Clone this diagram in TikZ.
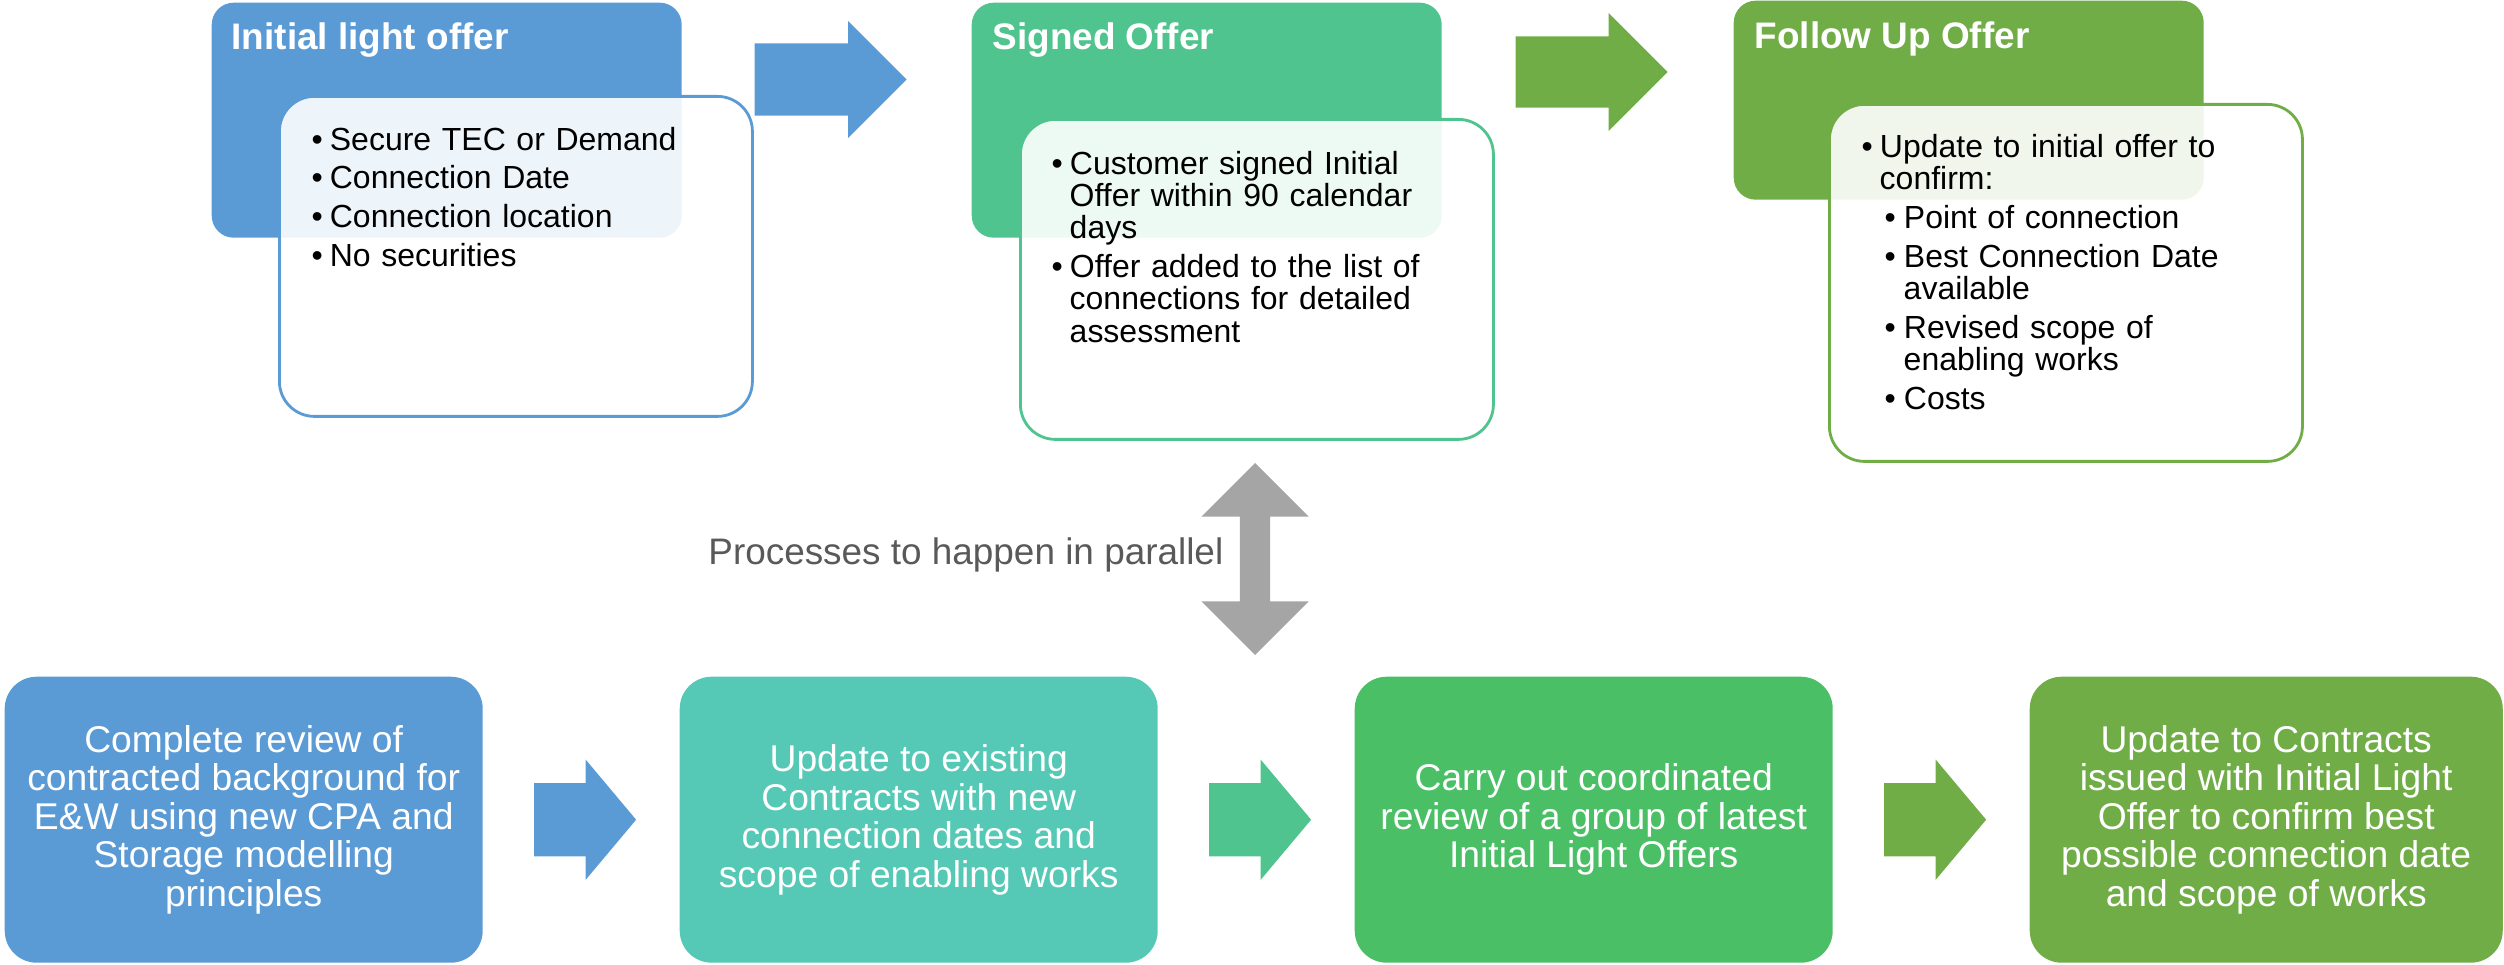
\documentclass[tikz,border=0pt]{standalone}
\usepackage{fontspec}
\setmainfont{Liberation Sans}
\usepackage{enumitem}
\usetikzlibrary{positioning,shapes.arrows}

\definecolor{offerblue}{HTML}{5B9BD5}
\definecolor{offermint}{HTML}{4FC48E}
\definecolor{offerolive}{HTML}{70AD47}
\definecolor{offerteal}{HTML}{55C9B6}
\definecolor{offergreen}{HTML}{4ABF66}
\definecolor{parallelgrey}{HTML}{A5A5A5}
\definecolor{noteink}{HTML}{595959}

\newcommand\pointfont{\fontsize{9.1pt}{9.2pt}\selectfont}
\newcommand\stagefont{\fontsize{10.6pt}{10.95pt}\selectfont}

\setlist[itemize,1]{label=\textbullet,leftmargin=0.18cm,labelindent=0pt,labelwidth=0.11cm,labelsep=0.07cm,
  align=left,topsep=0pt,partopsep=0pt,parsep=0pt,itemsep=0.065cm}
\setlist[itemize,2]{label=\textbullet,leftmargin=0.24cm,labelindent=0.05cm,labelwidth=0.11cm,labelsep=0.08cm,
  align=left,topsep=0.065cm,partopsep=0pt,parsep=0pt,itemsep=0.065cm}

\begin{document}
\begin{tikzpicture}[
    hdr/.style={rectangle,rounded corners=0.22cm,minimum width=4.70cm,anchor=north west,inner sep=0pt},
    ttl/.style={anchor=base west,inner sep=0pt,text=white,font=\fontsize{10.5pt}{12pt}\selectfont\bfseries},
    card/.style={rectangle,rounded corners=0.35cm,draw,line width=0.8pt,fill=white,fill opacity=0.9,
      anchor=north west,inner sep=0pt,minimum width=4.73cm,minimum height=3.20cm},
    pts/.style={inner sep=0pt,text width=4.1cm,align=left,font=\pointfont},
    stage/.style={rectangle,rounded corners=0.32cm,minimum width=4.78cm,minimum height=2.86cm,
      anchor=north west,inner sep=0pt,text=white,align=center,font=\stagefont},
    flowarrow/.style={single arrow,inner sep=0pt,inner ysep=0.36cm,single arrow head extend=0.235cm,
      single arrow tip angle=100,minimum height=1.02cm,anchor=tail},
    note/.style={inner sep=0pt,text=noteink,font=\fontsize{10.5pt}{12pt}\selectfont}]

  \useasboundingbox (0,0) rectangle (25.04,-9.65);

  % offer headers
  \node[hdr,fill=offerblue,minimum height=2.35cm] (ilo) at (2.11,-0.02) {};
  \node[hdr,fill=offermint,minimum height=2.35cm] (so) at (9.71,-0.02) {};
  \node[hdr,fill=offerolive,minimum height=1.99cm] (fuo) at (17.33,0) {};

  \node[ttl] (ilot) at ([shift={(0.20,-0.48)}]ilo.north west) {Initial light offer};
  \node[ttl] (sot) at ([shift={(0.21,-0.48)}]so.north west) {Signed Offer};
  \node[ttl] (fuot) at ([shift={(0.21,-0.49)}]fuo.north west) {Follow Up Offer};

  % offer details
  \node[card,draw=offerblue] (ilob) at (2.78,-0.95) {};
  \node[card,draw=offermint] (sob) at (10.19,-1.18) {};
  \node[card,draw=offerolive,minimum height=3.57cm] (fuob) at (18.28,-1.03) {};

  \node[pts,below right=0.22cm and 0.33cm of ilob.north west] (ilol) {%
    \begin{itemize}
      \item Secure TEC or Demand
      \item Connection Date
      \item Connection location
      \item No securities
    \end{itemize}};
  \node[pts,below right=0.23cm and 0.32cm of sob.north west] (sol) {%
    \begin{itemize}
      \item Customer signed Initial\newline Offer within 90 calendar\newline days
      \item Offer added to the list of\newline connections for detailed\newline assessment
    \end{itemize}};
  \node[pts,below right=0.21cm and 0.33cm of fuob.north west] (fuol) {%
    \begin{itemize}
      \item Update to initial offer to\newline confirm:
      \begin{itemize}
        \item Point of connection
        \item Best Connection Date\newline available
        \item Revised scope of\newline enabling works
        \item Costs
      \end{itemize}
    \end{itemize}};

  \node[flowarrow,fill=offerblue,inner ysep=0.355cm,single arrow head extend=0.225cm,
    single arrow tip angle=90,minimum height=1.52cm] (a1) at (7.54,-0.795) {};
  \node[flowarrow,fill=offerolive,inner ysep=0.35cm,
    single arrow tip angle=90,minimum height=1.52cm] (a2) at (15.15,-0.72) {};

  % parallel processes
  \node[stage,fill=offerblue] (rev) at (0.04,-6.76)
    {Complete review of\\contracted background for\\E\&W using new CPA and\\Storage modelling\\principles};
  \node[stage,fill=offerteal] (upd) at (6.79,-6.76)
    {Update to existing\\Contracts with new\\connection dates and\\scope of enabling works};
  \node[stage,fill=offergreen] (coo) at (13.54,-6.76)
    {Carry out coordinated\\review of a group of latest\\Initial Light Offers};
  \node[stage,fill=offerolive,minimum width=4.73cm] (con) at (20.29,-6.76)
    {Update to Contracts\\issued with Initial Light\\Offer to confirm best\\possible connection date\\and scope of works};

  \node[flowarrow,fill=offerblue,right=0.50cm of rev,anchor=tail] (a3) {};
  \node[flowarrow,fill=offermint,right=0.50cm of upd,anchor=tail] (a4) {};
  \node[flowarrow,fill=offerolive,right=0.50cm of coo,anchor=tail] (a5) {};

  \node[double arrow,fill=parallelgrey,inner sep=0pt,inner ysep=0.145cm,double arrow head extend=0.385cm,
    minimum height=1.92cm,rotate=90] (par) at (12.55,-5.59) {};
  \node[note,anchor=base east] (parl) at (12.24,-5.65) {Processes to happen in parallel};

\end{tikzpicture}
\end{document}
